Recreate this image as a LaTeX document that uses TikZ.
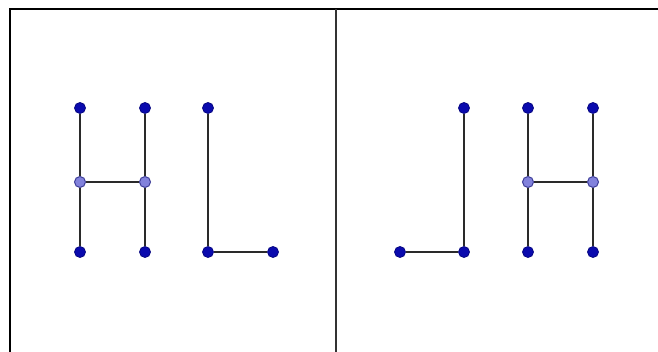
\documentclass[tikz,border=0pt]{standalone}
\usepackage{xcolor}
\usetikzlibrary{positioning}
\definecolor{dotblue}{HTML}{0A0AAE}
\definecolor{jointblue}{HTML}{8282DC}
\definecolor{edgegray}{HTML}{2A2A2A}
\tikzset{
  vertex/.style={circle,inner sep=0pt,minimum size=11pt,fill=dotblue,
                 draw=dotblue!75!black,line width=0.8pt},
  joint/.style={circle,inner sep=0pt,minimum size=11pt,fill=jointblue,
                draw=dotblue!55!gray,line width=1pt},
  segline/.style={line width=1.7pt,draw=edgegray},
  frameline/.style={line width=2.2pt,draw=black},
}

\begin{document}
\begin{tikzpicture}[x=1pt,y=-1pt]
  \useasboundingbox (0,0) rectangle (658,352);
  % frame and mirror line
  \draw[frameline] (10,354) |- (660,9);
  \draw[line width=1.6pt,draw=black!80] (336,9) -- (336,354);
  % left panel: H L
  \node[vertex] (hat) at (80,108) {};
  \node[joint]  (ham) at (80,182) {};
  \node[vertex] (hab) at (80,252) {};
  \node[vertex] (hbt) at (145,108) {};
  \node[joint]  (hbm) at (145,182) {};
  \node[vertex] (hbb) at (145,252) {};
  \node[vertex] (lt) at (208,108) {};
  \node[vertex] (lb) at (208,252) {};
  \node[vertex] (lf) at (273,252) {};
  \draw[segline] (hat) -- (ham) -- (hab);
  \draw[segline] (hbt) -- (hbm) -- (hbb);
  \draw[segline] (ham) -- (hbm);
  \draw[segline] (lt) -- (lb) -- (lf);
  % right panel: mirror image
  \node[vertex] (rf) at (400,252) {};
  \node[vertex] (rb) at (464,252) {};
  \node[vertex] (rt) at (464,108) {};
  \node[vertex] (hct) at (528,108) {};
  \node[joint]  (hcm) at (528,182) {};
  \node[vertex] (hcb) at (528,252) {};
  \node[vertex] (hdt) at (593,108) {};
  \node[joint]  (hdm) at (593,182) {};
  \node[vertex] (hdb) at (593,252) {};
  \draw[segline] (rf) -- (rb) -- (rt);
  \draw[segline] (hct) -- (hcm) -- (hcb);
  \draw[segline] (hdt) -- (hdm) -- (hdb);
  \draw[segline] (hcm) -- (hdm);
\end{tikzpicture}
\end{document}
